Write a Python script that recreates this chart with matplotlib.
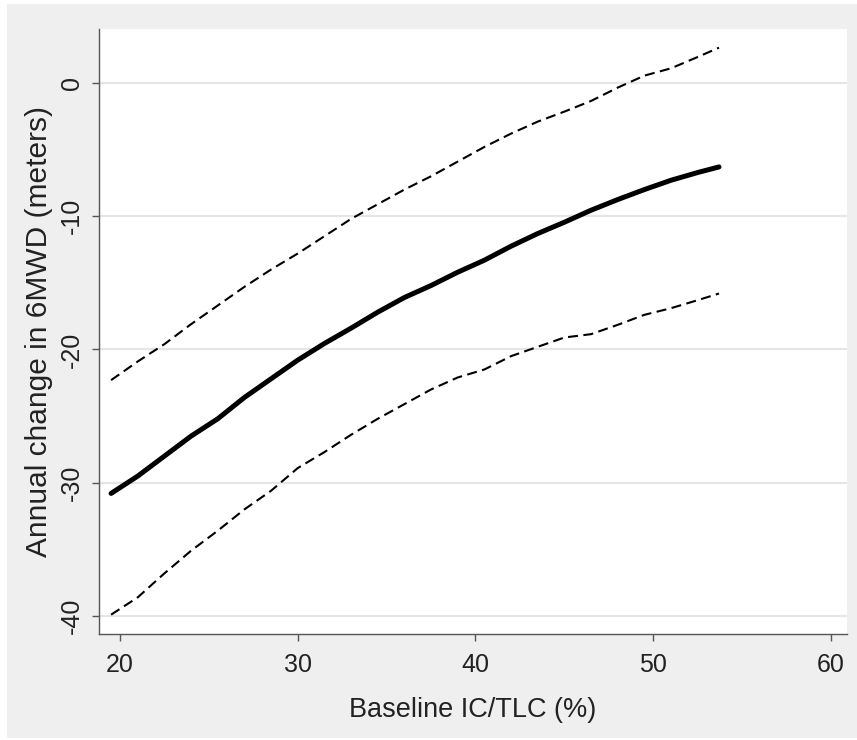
import numpy as np
import matplotlib.pyplot as plt
from matplotlib.patches import Rectangle

plt.rcParams['font.family'] = ['Liberation Sans', 'DejaVu Sans']
plt.rcParams['axes.unicode_minus'] = False

# values
ic_tlc = [19.5, 21, 22.5, 24, 25.5, 27, 28.5, 30, 31.5, 33, 34.5, 36,
          37.5, 39, 40.5, 42, 43.5, 45, 46.5, 48, 49.5, 51, 52.5, 53.7]
fit = [-30.8, -29.5, -28.0, -26.5, -25.2, -23.6, -22.2, -20.8, -19.55, -18.4,
       -17.2, -16.1, -15.2, -14.2, -13.3, -12.25, -11.3, -10.45, -9.55, -8.75,
       -8.0, -7.3, -6.72, -6.3]
upper = [-22.3, -20.9, -19.6, -18.1, -16.7, -15.3, -14.0, -12.8, -11.5, -10.2,
         -9.1, -8.0, -7.0, -5.9, -4.8, -3.8, -2.9, -2.15, -1.35, -0.35,
         0.55, 1.1, 1.95, 2.65]
lower = [-39.9, -38.6, -36.8, -35.1, -33.6, -32.0, -30.6, -28.9, -27.7, -26.4,
         -25.2, -24.1, -23.0, -22.1, -21.5, -20.5, -19.8, -19.1, -18.85, -18.15,
         -17.4, -16.9, -16.3, -15.8]
xticks = [20, 30, 40, 50, 60]
yticks = [-40, -30, -20, -10, 0]

fig = plt.figure(figsize=(8.57, 7.40), dpi=100, facecolor='white')
fig.patches.append(Rectangle((7/857, 0.003), 1, 1 - 4/740 - 0.003,
                             transform=fig.transFigure, facecolor='#efefef',
                             edgecolor='none', zorder=-10))

ax = fig.add_axes([99/857, 1 - 634/740, (847 - 99)/857, (634 - 29)/740])
ax.set_facecolor('white')

ax.plot(ic_tlc, upper, color='black', lw=1.5, dashes=(4.8, 2.6))
ax.plot(ic_tlc, lower, color='black', lw=1.5, dashes=(4.8, 2.6))
ax.plot(ic_tlc, fit, color='black', lw=3.6, solid_capstyle='round')

ax.set_xlim(18.82, 60.9)
ax.set_ylim(-41.35, 4.05)
ax.set_xticks(xticks)
ax.set_yticks(yticks)
ax.yaxis.grid(True, color='#e6e6e6', lw=1.5)
ax.set_axisbelow(True)

for s in ['top', 'right']:
    ax.spines[s].set_visible(False)
for s in ['left', 'bottom']:
    ax.spines[s].set_color('#555555')
    ax.spines[s].set_linewidth(1.0)

ax.tick_params(axis='both', direction='out', length=5, width=1,
               color='#555555', labelsize=18, labelcolor='#222222')
ax.tick_params(axis='x', pad=9)
ax.tick_params(axis='y', pad=6)
for lab in ax.get_yticklabels():
    lab.set_rotation(90)
    lab.set_va('center')

ax.set_xlabel('Baseline IC/TLC (%)', fontsize=19.5, color='#222222', labelpad=14)
ax.set_ylabel('Annual change in 6MWD (meters)', fontsize=21.5, color='#222222',
              labelpad=5)

fig.savefig('out.png', dpi=100, facecolor=fig.get_facecolor())
